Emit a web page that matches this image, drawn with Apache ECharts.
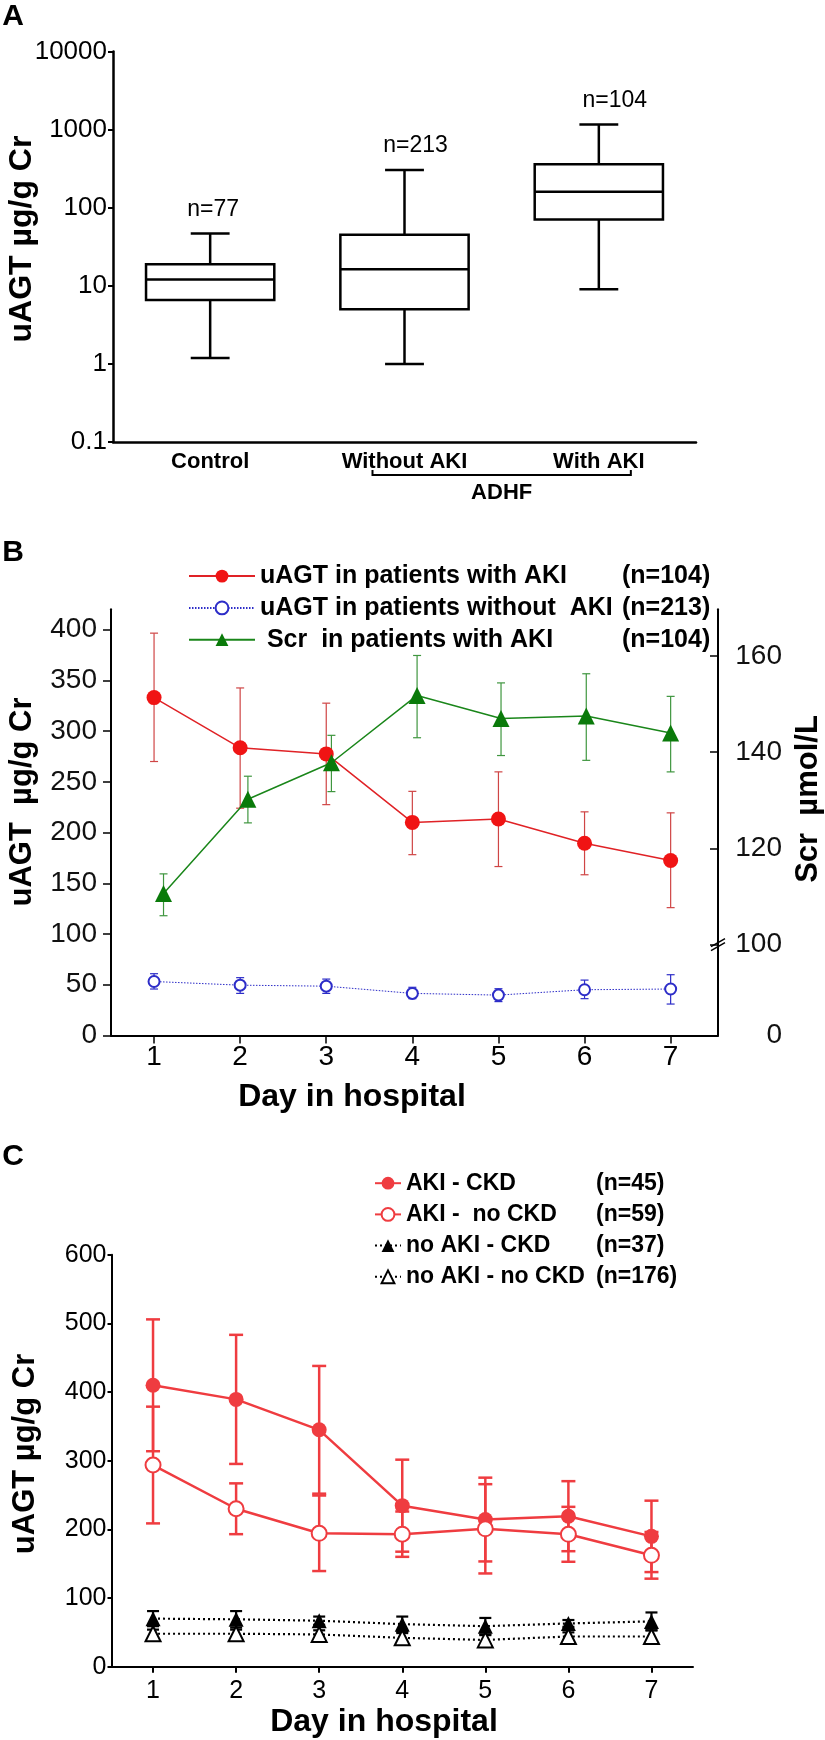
<!DOCTYPE html>
<html><head><meta charset="utf-8">
<script src="https://cdn.jsdelivr.net/npm/echarts@6/dist/echarts.min.js"></script>
<style>html,body{margin:0;padding:0;background:#fff}#c{width:825px;height:1740px}</style>
</head><body><div id="c"></div>
<script>
// ---------- Panel A data ----------
const catsA = ['Control', 'Without AKI', 'With AKI'];
// [min, Q1, median, Q3, max]
const boxControl = [1.19, 6.55, 12.0, 18.8, 46.8];
const boxWithout = [1.0, 5.0, 16.3, 45, 303];
const boxWith = [9.0, 70.5, 160, 358, 1158];
const nLabelsA = ['n=77', 'n=213', 'n=104'];
const ticksA = [0.1, 1, 10, 100, 1000, 10000];

// ---------- Panel B data ----------
const daysB = [1, 2, 3, 4, 5, 6, 7];
const scrDays = [1.11, 2.09, 3.06, 4.055, 5.03, 6.02, 7.0];
const uagtAKI = [333, 283.5, 277.5, 210, 213.4, 189.4, 172.5];
const uagtAKILow = [270, 224, 227.5, 178.2, 166.5, 158.4, 126];
const uagtAKIHigh = [396.5, 342.5, 327.5, 240.6, 259.8, 220.4, 219.4];
const uagtNoAKI = [53.2, 49.6, 48.6, 41.5, 39.8, 45.1, 45.8];
const uagtNoAKILow = [45.8, 41.5, 41.5, 36.3, 33.4, 36.3, 31.0];
const uagtNoAKIHigh = [60.9, 57.0, 55.6, 47.5, 46.1, 54.6, 59.9];
const scrAKI = [110.6, 130.2, 137.8, 151.8, 147.0, 147.5, 144.0];
const scrAKILow = [106.0, 125.3, 131.8, 143.0, 139.3, 138.3, 135.9];
const scrAKIHigh = [114.7, 135.0, 143.5, 160.1, 154.4, 156.3, 151.6];
const leftTicksB = [0, 50, 100, 150, 200, 250, 300, 350, 400];
const rightTicksB = [100, 120, 140, 160];
const namesB = ['uAGT in patients with AKI', 'uAGT in patients without  AKI', ' Scr  in patients with AKI'];
const nB = ['(n=104)', '(n=213)', '(n=104)'];

// ---------- Panel C data ----------
const daysC = [1, 2, 3, 4, 5, 6, 7];
const akiCkd = [409.8, 389.3, 345, 234.5, 214.3, 219.2, 189.8];
const akiCkdErr = [96, 94, 93, 67, 61, 51, 52];
const akiNoCkd = [293.7, 230, 194.3, 193, 200.8, 192.8, 162.2];
const akiNoCkdErr = [85, 37, 55, 33, 65, 40, 34];
const noAkiCkd = [70, 69, 67, 62, 59, 63, 66];
const noAkiCkdErr = [11, 12, 6, 11, 12, 5, 13];
const noAkiNoCkd = [48, 48, 47, 42, 39, 44, 44];
const noAkiNoCkdErr = [6, 6, 6, 7, 7, 6, 9];
const namesC = ['AKI - CKD', 'AKI -  no CKD', 'no AKI - CKD', 'no AKI - no CKD'];
const nC = ['(n=45)', '(n=59)', '(n=37)', '(n=176)'];

// ---------- styling ----------
const FF = '"Liberation Sans", Arial, Helvetica, sans-serif';
const RED_B = '#f01414', RED_B_ERR = '#cf4545', BLUE = '#2d2dc8', GREEN = '#0a7a0a', GREEN_ERR = '#3f963f';
const RED_C = '#ef3c40';
const nLabelDx = [3, 11, 16];

const chart = echarts.init(document.getElementById('c'), null, {renderer: 'canvas'});

function errSeries(name, xIdx, yIdx, xs, lo, hi, color, width, capHalf, z) {
  return {
    type: 'custom', name: name, xAxisIndex: xIdx, yAxisIndex: yIdx, z: z || 1, silent: true,
    encode: {x: 0, y: [1, 2]},
    data: xs.map((x, i) => [x, lo[i], hi[i]]),
    renderItem: function (params, api) {
      const x = api.value(0);
      const a = api.coord([x, api.value(1)]);
      const b = api.coord([x, api.value(2)]);
      const st = {stroke: color, lineWidth: width, fill: null};
      return {type: 'group', children: [
        {type: 'line', shape: {x1: a[0], y1: a[1], x2: b[0], y2: b[1]}, style: st},
        {type: 'line', shape: {x1: a[0] - capHalf, y1: a[1], x2: a[0] + capHalf, y2: a[1]}, style: st},
        {type: 'line', shape: {x1: b[0] - capHalf, y1: b[1], x2: b[0] + capHalf, y2: b[1]}, style: st}
      ]};
    }
  };
}
const zip = (xs, ys) => xs.map((x, i) => [x, ys[i]]);

const boxes = [boxControl, boxWithout, boxWith];

const option = {
  animation: false,
  backgroundColor: '#fff',
  textStyle: {fontFamily: FF},
  grid: [
    {left: 113, top: 51.4, width: 583, height: 390.6},
    {left: 111, top: 609.3, width: 607, height: 426.2},
    {left: 111.5, top: 1254.7, width: 581.5, height: 412}
  ],
  xAxis: [
    {gridIndex: 0, type: 'category', data: catsA,
      axisLine: {lineStyle: {color: '#000', width: 2.5}},
      axisTick: {alignWithLabel: true, length: 6, lineStyle: {color: '#000', width: 2}},
      axisLabel: {color: '#000', fontFamily: FF, fontWeight: 'bold', fontSize: 22, margin: 9},
      splitLine: {show: false}},
    {gridIndex: 1, type: 'value', min: 0.5, max: 7.55,
      axisLine: {onZero: false, lineStyle: {color: '#000', width: 2}},
      axisTick: {customValues: daysB, length: 8, lineStyle: {color: '#000', width: 1.5}},
      axisLabel: {customValues: daysB, color: '#000', fontFamily: FF, fontSize: 28, margin: 8},
      splitLine: {show: false}},
    {gridIndex: 2, type: 'value', min: 0.5, max: 7.5,
      axisLine: {onZero: false, lineStyle: {color: '#000', width: 2}},
      axisTick: {customValues: daysC, length: 6, lineStyle: {color: '#000', width: 2}},
      axisLabel: {customValues: daysC, color: '#000', fontFamily: FF, fontSize: 25, margin: 12},
      splitLine: {show: false}}
  ],
  yAxis: [
    {gridIndex: 0, type: 'log', logBase: 10, min: 0.1, max: 10000,
      axisLine: {show: true, lineStyle: {color: '#000', width: 2.5}},
      axisTick: {show: true, length: 5, lineStyle: {color: '#000', width: 2}},
      axisLabel: {color: '#000', fontFamily: FF, fontSize: 26, margin: 6,
        formatter: v => (v < 0.5 ? '0.1' : String(Math.round(v)))},
      minorTick: {show: false}, splitLine: {show: false}},
    {gridIndex: 1, type: 'value', min: 0, max: 420,
      axisLine: {show: true, lineStyle: {color: '#000', width: 2}},
      axisTick: {show: true, customValues: leftTicksB, length: 8, lineStyle: {color: '#000', width: 1.5}},
      axisLabel: {customValues: leftTicksB, color: '#111', fontFamily: FF, fontSize: 28, margin: 14},
      splitLine: {show: false}},
    {gridIndex: 1, type: 'value', position: 'right', min: 81.1, max: 169.7,
      axisLine: {show: true, onZero: false, lineStyle: {color: '#000', width: 2}},
      axisTick: {show: true, inside: true, customValues: [81.1].concat(rightTicksB), length: 8, lineStyle: {color: '#000', width: 1.5}},
      axisLabel: {customValues: [81.1].concat(rightTicksB), color: '#111', fontFamily: FF, fontSize: 28, margin: 64, align: 'right',
        formatter: v => (v < 90 ? '0' : String(Math.round(v)))},
      splitLine: {show: false}},
    {gridIndex: 2, type: 'value', min: 0, max: 600, interval: 100,
      axisLine: {show: true, lineStyle: {color: '#000', width: 2}},
      axisTick: {show: true, length: 4, lineStyle: {color: '#000', width: 2}},
      axisLabel: {color: '#000', fontFamily: FF, fontSize: 25, margin: 5},
      splitLine: {show: false}}
  ],
  legend: [
    {left: 188, top: 563.6, orient: 'vertical', padding: 0, itemGap: 6.8, itemWidth: 66, itemHeight: 16,
      selectedMode: false, data: namesB,
      formatter: name => '{a|' + name + '}{b|' + nB[namesB.indexOf(name)] + '}',
      textStyle: {rich: {
        a: {width: 362, fontFamily: FF, fontWeight: 'bold', fontSize: 25, color: '#000', lineHeight: 20},
        b: {fontFamily: FF, fontWeight: 'bold', fontSize: 25, color: '#000', lineHeight: 20}}}},
    {left: 374, top: 1171.7, orient: 'vertical', padding: 0, itemGap: 8.2, itemWidth: 26, itemHeight: 16,
      selectedMode: false, data: namesC,
      formatter: name => '{a|' + name + '}{b|' + nC[namesC.indexOf(name)] + '}',
      textStyle: {rich: {
        a: {width: 190, fontFamily: FF, fontWeight: 'bold', fontSize: 23, color: '#000', lineHeight: 20},
        b: {fontFamily: FF, fontWeight: 'bold', fontSize: 23, color: '#000', lineHeight: 20}}}}
  ],
  series: [
    // ---- Panel A boxes ----
    {type: 'custom', name: 'boxA', xAxisIndex: 0, yAxisIndex: 0, silent: true,
      encode: {x: 0, y: [1, 2, 3, 4, 5]},
      data: boxes.map((b, i) => [i].concat(b)),
      renderItem: function (params, api) {
        const i = api.value(0);
        const lo = api.coord([i, api.value(1)]);
        const q1 = api.coord([i, api.value(2)]);
        const md = api.coord([i, api.value(3)]);
        const q3 = api.coord([i, api.value(4)]);
        const hi = api.coord([i, api.value(5)]);
        const band = api.size([1, 1])[0];
        const bw = band * 0.66, cw = band * 0.2;
        const cx = md[0];
        const st = {stroke: '#000', lineWidth: 2.5, fill: null};
        return {type: 'group', children: [
          {type: 'rect', shape: {x: cx - bw / 2, y: q3[1], width: bw, height: q1[1] - q3[1]}, style: {stroke: '#000', lineWidth: 2.5, fill: '#fff'}},
          {type: 'line', shape: {x1: cx - bw / 2, y1: md[1], x2: cx + bw / 2, y2: md[1]}, style: st},
          {type: 'line', shape: {x1: cx, y1: q3[1], x2: cx, y2: hi[1]}, style: st},
          {type: 'line', shape: {x1: cx, y1: q1[1], x2: cx, y2: lo[1]}, style: st},
          {type: 'line', shape: {x1: cx - cw / 2, y1: hi[1], x2: cx + cw / 2, y2: hi[1]}, style: st},
          {type: 'line', shape: {x1: cx - cw / 2, y1: lo[1], x2: cx + cw / 2, y2: lo[1]}, style: st},
          {type: 'text', style: {text: nLabelsA[params.dataIndex], x: cx + nLabelDx[params.dataIndex], y: hi[1] - 24,
            align: 'center', verticalAlign: 'middle', textAlign: 'center', textVerticalAlign: 'middle',
            font: '23px ' + FF, fill: '#000'}}
        ]};
      }},
    // ---- Panel B ----
    errSeries('errB1', 1, 1, daysB, uagtAKILow, uagtAKIHigh, RED_B_ERR, 1.2, 4),
    errSeries('errB2', 1, 1, daysB, uagtNoAKILow, uagtNoAKIHigh, BLUE, 1.2, 4),
    errSeries('errB3', 1, 2, scrDays, scrAKILow, scrAKIHigh, GREEN_ERR, 1.2, 4),
    {type: 'line', name: namesB[0], xAxisIndex: 1, yAxisIndex: 1, data: zip(daysB, uagtAKI), z: 3,
      symbol: 'circle', symbolSize: 15, itemStyle: {color: RED_B},
      lineStyle: {color: '#e02226', width: 1.5}},
    {type: 'line', name: namesB[1], xAxisIndex: 1, yAxisIndex: 1, data: zip(daysB, uagtNoAKI), z: 3,
      symbol: 'emptyCircle', symbolSize: 11, itemStyle: {color: BLUE, borderWidth: 1.3},
      lineStyle: {color: BLUE, width: 1, type: [1.5, 1.5]}},
    {type: 'line', name: namesB[2], xAxisIndex: 1, yAxisIndex: 2, data: zip(scrDays, scrAKI), z: 4,
      symbol: 'triangle', symbolSize: 17, itemStyle: {color: GREEN},
      lineStyle: {color: '#1a861a', width: 1.5}},
    // ---- Panel C ----
    errSeries('errC1', 2, 3, daysC, akiCkd.map((v, i) => v - akiCkdErr[i]), akiCkd.map((v, i) => v + akiCkdErr[i]), RED_C, 2.5, 7),
    errSeries('errC2', 2, 3, daysC, akiNoCkd.map((v, i) => v - akiNoCkdErr[i]), akiNoCkd.map((v, i) => v + akiNoCkdErr[i]), RED_C, 2.5, 7),
    errSeries('errC3', 2, 3, daysC, noAkiCkd.map((v, i) => v - noAkiCkdErr[i]), noAkiCkd.map((v, i) => v + noAkiCkdErr[i]), '#000', 2.2, 6),
    errSeries('errC4', 2, 3, daysC, noAkiNoCkd.map((v, i) => v - noAkiNoCkdErr[i]), noAkiNoCkd.map((v, i) => v + noAkiNoCkdErr[i]), '#000', 2.2, 6),
    {type: 'line', name: namesC[0], xAxisIndex: 2, yAxisIndex: 3, data: zip(daysC, akiCkd), z: 3,
      symbol: 'circle', symbolSize: 15, itemStyle: {color: RED_C},
      lineStyle: {color: RED_C, width: 2.5}},
    {type: 'line', name: namesC[1], xAxisIndex: 2, yAxisIndex: 3, data: zip(daysC, akiNoCkd), z: 3,
      symbol: 'emptyCircle', symbolSize: 15, itemStyle: {color: RED_C, borderWidth: 3},
      lineStyle: {color: RED_C, width: 2.5}},
    {type: 'line', name: namesC[2], xAxisIndex: 2, yAxisIndex: 3, data: zip(daysC, noAkiCkd), z: 3,
      symbol: 'triangle', symbolSize: 15, itemStyle: {color: '#000'},
      lineStyle: {color: '#000', width: 2.2, type: [2, 3]}},
    {type: 'line', name: namesC[3], xAxisIndex: 2, yAxisIndex: 3, data: zip(daysC, noAkiNoCkd), z: 3,
      symbol: 'emptyTriangle', symbolSize: 15, itemStyle: {color: '#000', borderWidth: 2},
      lineStyle: {color: '#000', width: 2.2, type: [2, 3]}}
  ]
};
chart.setOption(option);

// ---------- annotations (positions derived from the chart scales) ----------
const bold = s => 'bold ' + s + 'px ' + FF;
function txt(text, x, y, font, rot) {
  return {type: 'text', x: x, y: y, rotation: rot || 0, silent: true,
    style: {text: text, x: 0, y: 0, align: 'center', verticalAlign: 'middle', textAlign: 'center', textVerticalAlign: 'middle', font: font, fill: '#000'}};
}
const xW = chart.convertToPixel({xAxisIndex: 0}, 'Without AKI');
const xWi = chart.convertToPixel({xAxisIndex: 0}, 'With AKI');
const yBase = chart.convertToPixel({yAxisIndex: 0}, 0.1);
const brY = yBase + 33;
const bx1 = xW - 32, bx2 = xWi + 32;
const rAxisX = chart.convertToPixel({xAxisIndex: 1}, 7.55);
const y100 = chart.convertToPixel({yAxisIndex: 2}, 100);
const graphics = [
  txt('A', 13, 17, bold(30)),
  txt('B', 13, 553, bold(30)),
  txt('C', 13, 1157, bold(30)),
  txt('uAGT µg/g Cr', 22, 239, bold(32), Math.PI / 2),
  txt('uAGT  µg/g Cr', 22, 802, bold(31), Math.PI / 2),
  txt('Scr  µmol/L', 808, 799, bold(31), Math.PI / 2),
  txt('uAGT µg/g Cr', 25, 1454, bold(31), Math.PI / 2),
  txt('Day in hospital', 352, 1097, bold(32)),
  txt('Day in hospital', 384, 1722, bold(32)),
  txt('ADHF', (bx1 + bx2) / 2, brY + 18, bold(22)),
  {type: 'polyline', silent: true, shape: {points: [[bx1, brY - 5], [bx1, brY], [bx2, brY], [bx2, brY - 5]]},
    style: {stroke: '#000', lineWidth: 2, fill: null}},
  {type: 'rect', silent: true, shape: {x: rAxisX - 3, y: y100 - 2, width: 6, height: 4}, style: {fill: '#fff'}},
  {type: 'line', silent: true, shape: {x1: rAxisX - 7, y1: y100 + 2, x2: rAxisX + 7, y2: y100 - 6}, style: {stroke: '#000', lineWidth: 1.5}},
  {type: 'line', silent: true, shape: {x1: rAxisX - 7, y1: y100 + 6, x2: rAxisX + 7, y2: y100 - 2}, style: {stroke: '#000', lineWidth: 1.5}}
];
chart.setOption({graphic: graphics});
</script></body></html>
